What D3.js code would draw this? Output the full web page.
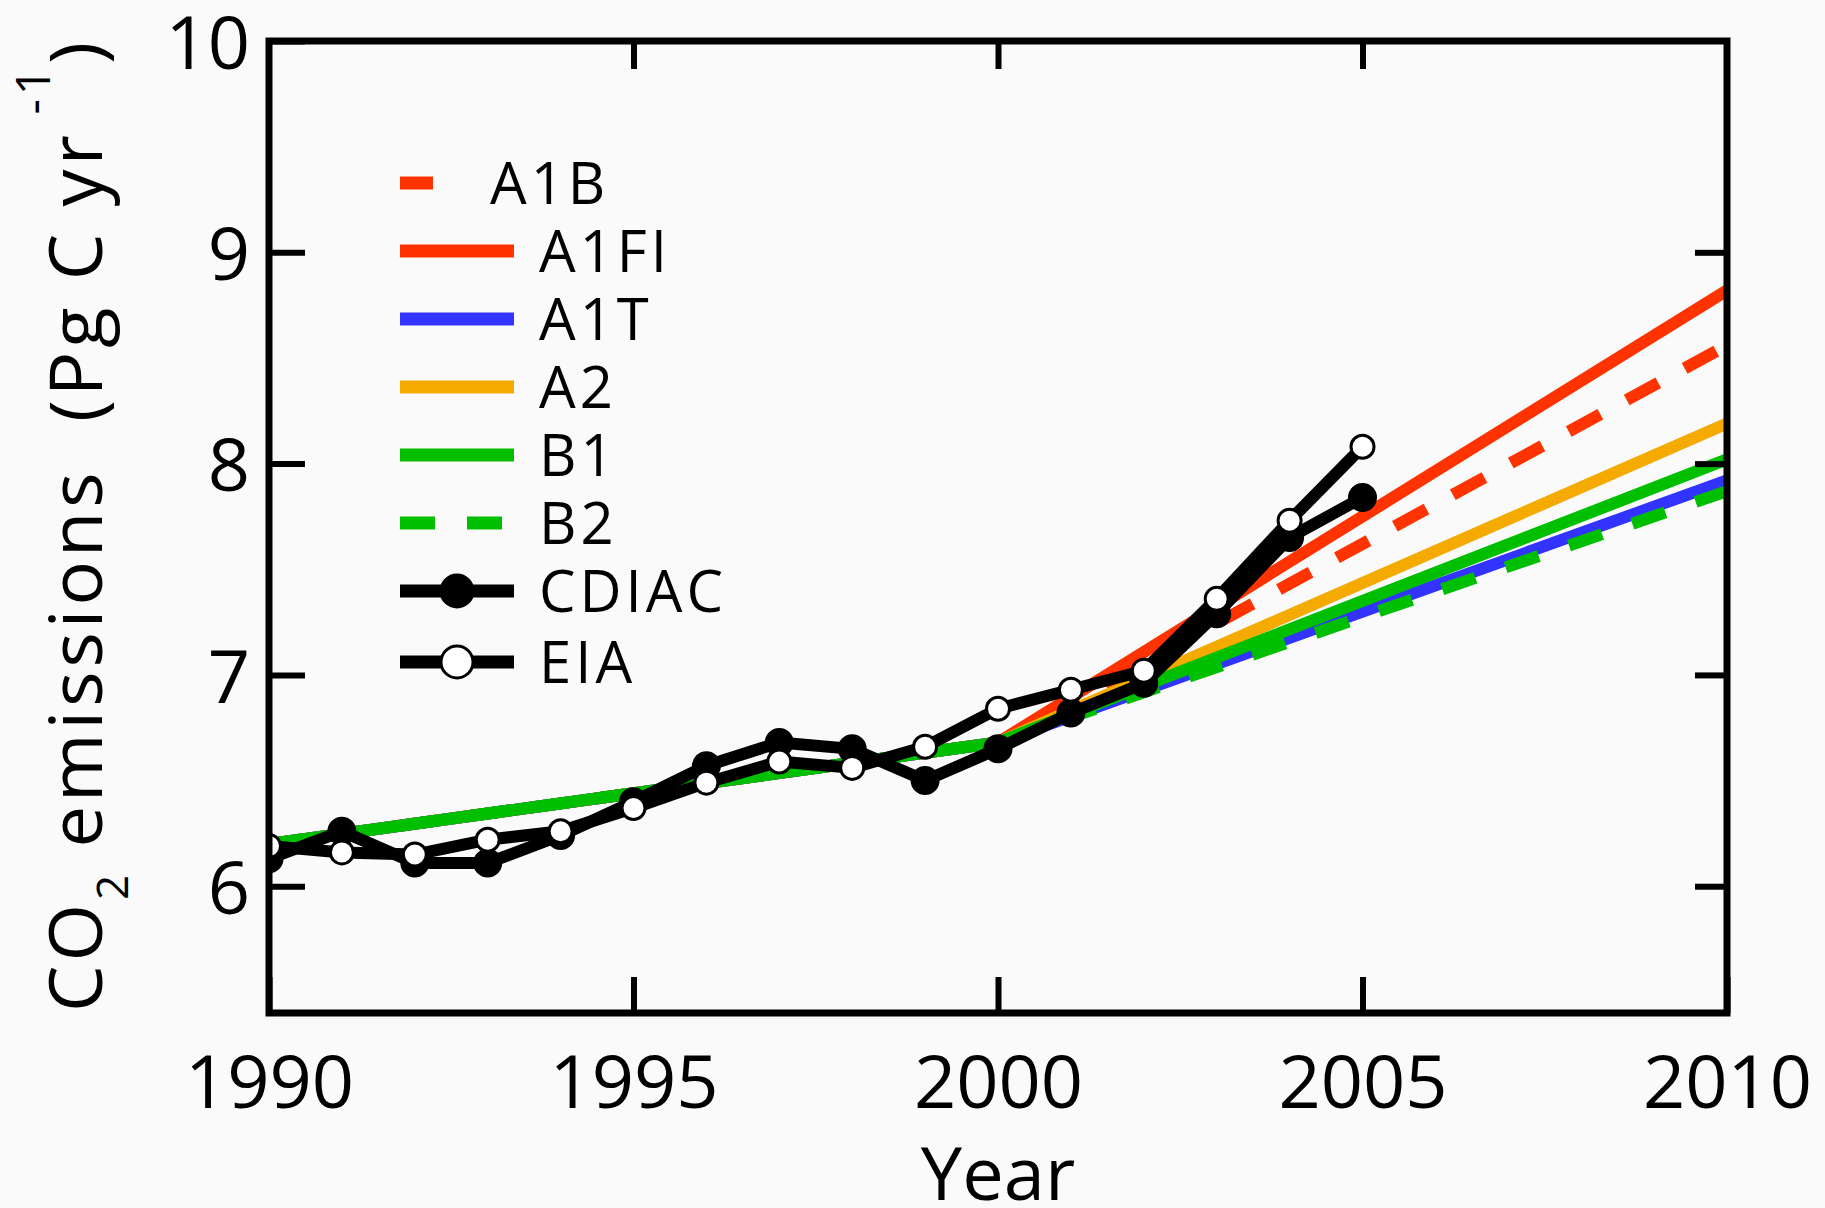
<!DOCTYPE html>
<html>
<head>
<meta charset="utf-8">
<script src="https://cdn.jsdelivr.net/npm/d3@7"></script>
<style>
  body { margin: 0; background: #fafafa; }
  svg { display: block; font-family: "Open Sans", sans-serif; }
</style>
</head>
<body>
<svg width="1825" height="1208"></svg>
<script>
// observed emissions, Pg C / yr
const years = [1990, 1991, 1992, 1993, 1994, 1995, 1996, 1997, 1998, 1999,
               2000, 2001, 2002, 2003, 2004, 2005];
const cdiac = [6.13, 6.26, 6.11, 6.11, 6.24, 6.40, 6.57, 6.68, 6.65, 6.50,
               6.65, 6.82, 6.96, 7.29, 7.65, 7.84];
const eia   = [6.19, 6.16, 6.15, 6.22, 6.26, 6.37, 6.49, 6.59, 6.56, 6.66,
               6.84, 6.93, 7.02, 7.36, 7.73, 8.08];

// SRES scenarios, given at these years
const scenYears = [1990, 2000, 2010];
const a1b  = [6.20, 6.68, 8.56];
const a1fi = [6.20, 6.68, 8.82];
const a1t  = [6.20, 6.68, 7.92];
const a2   = [6.20, 6.68, 8.19];
const b1   = [6.20, 6.68, 8.02];
const b2   = [6.20, 6.68, 7.87];

const xTicks = [1990, 1995, 2000, 2005, 2010];
const yTicks = [6, 7, 8, 9, 10];

const RED = '#ff3300', BLUE = '#3333ff', ORANGE = '#f5aa00', GREEN = '#00bf00';

// draw order matters: B1 ends up on top of the shared 1990-2000 stretch
const scenarios = [
  {name: 'A1FI', vals: a1fi, color: RED,    dash: null},
  {name: 'A1B',  vals: a1b,  color: RED,    dash: '36,30'},
  {name: 'A2',   vals: a2,   color: ORANGE, dash: null},
  {name: 'A1T',  vals: a1t,  color: BLUE,   dash: null},
  {name: 'B2',   vals: b2,   color: GREEN,  dash: '35,32'},
  {name: 'B1',   vals: b1,   color: GREEN,  dash: null}
];

const L = 269, R = 1727, T = 41, B = 1013;
const FS = 74;

const svg = d3.select('svg');
const x = d3.scaleLinear().domain([1990, 2010]).range([L, R]);
const y = d3.scaleLinear().domain([5.4, 10]).range([B, T]);

svg.append('defs').append('clipPath').attr('id', 'plot')
   .append('rect').attr('x', L).attr('y', T).attr('width', R - L).attr('height', B - T);

const plot = svg.append('g').attr('clip-path', 'url(#plot)');

const line = d3.line().x(d => x(d[0])).y(d => y(d[1]));

plot.selectAll('path.scen').data(scenarios).enter().append('path')
    .attr('class', 'scen')
    .attr('d', s => line(d3.zip(scenYears, s.vals)))
    .attr('fill', 'none')
    .attr('stroke', s => s.color)
    .attr('stroke-width', 12)
    .attr('stroke-dasharray', s => s.dash);

function obsSeries(vals, fill){
  const pts = d3.zip(years, vals);
  plot.append('path').attr('d', line(pts))
      .attr('fill', 'none').attr('stroke', '#000').attr('stroke-width', 12)
      .attr('stroke-linejoin', 'round');
  plot.selectAll(null).data(pts).enter().append('circle')
      .attr('cx', d => x(d[0])).attr('cy', d => y(d[1]))
      .attr('r', fill === '#000' ? 13 : 11.5)
      .attr('fill', fill).attr('stroke', '#000').attr('stroke-width', 3);
}
obsSeries(cdiac, '#000');
obsSeries(eia, '#fff');

// axes: inward ticks on all four sides, labels only bottom/left
function styleAxis(g){
  g.select('.domain').remove();
  g.selectAll('.tick line').attr('stroke', '#000').attr('stroke-width', 6);
  g.selectAll('text').attr('font-size', FS).attr('font-family', '"Open Sans", sans-serif')
   .attr('fill', '#000');
}
const TK = 36;
svg.append('g').attr('transform', `translate(0,${B})`)
   .call(d3.axisBottom(x).tickValues(xTicks).tickFormat(d3.format('d'))
          .tickSizeInner(-TK).tickSizeOuter(0).tickPadding(42))
   .call(styleAxis);
svg.append('g').attr('transform', `translate(0,${T})`)
   .call(d3.axisTop(x).tickValues(xTicks.slice(1, -1)).tickFormat('')
          .tickSizeInner(-28).tickSizeOuter(0))
   .call(styleAxis);
svg.append('g').attr('transform', `translate(${L},0)`)
   .call(d3.axisLeft(y).tickValues(yTicks).tickFormat(d3.format('d'))
          .tickSizeInner(-TK).tickSizeOuter(0).tickPadding(19))
   .call(styleAxis)
   .selectAll('text').attr('dy', '0.37em');
svg.append('g').attr('transform', `translate(${R},0)`)
   .call(d3.axisRight(y).tickValues(yTicks.slice(0, -1)).tickFormat('')
          .tickSizeInner(-32).tickSizeOuter(0))
   .call(styleAxis);

svg.append('rect').attr('x', L).attr('y', T).attr('width', R - L).attr('height', B - T)
   .attr('fill', 'none').attr('stroke', '#000').attr('stroke-width', 7);

// axis titles
svg.append('text').attr('x', (L + R) / 2).attr('y', 1200)
   .attr('text-anchor', 'middle').attr('font-size', FS).text('Year');

const yt = svg.append('text')
   .attr('transform', `translate(102,${(T + B) / 2 - 2}) rotate(-90)`)
   .attr('text-anchor', 'middle').attr('font-size', FS)
   .attr('letter-spacing', 4).style('white-space', 'pre');
yt.append('tspan').text('CO');
yt.append('tspan').attr('font-size', 44).attr('dy', 26).text('2');
yt.append('tspan').attr('dy', -26).text(' emissions  (Pg C yr');
yt.append('tspan').attr('font-size', 48).attr('dy', -52).text(' -1');
yt.append('tspan').attr('dy', 52).text(')');

// legend
const legend = [
  {name: 'A1B',   color: RED,    kind: 'shortdash'},
  {name: 'A1FI',  color: RED,    kind: 'solid'},
  {name: 'A1T',   color: BLUE,   kind: 'solid'},
  {name: 'A2',    color: ORANGE, kind: 'solid'},
  {name: 'B1',    color: GREEN,  kind: 'solid'},
  {name: 'B2',    color: GREEN,  kind: 'dash'},
  {name: 'CDIAC', color: '#000', kind: 'filled'},
  {name: 'EIA',   color: '#000', kind: 'open'}
];
const lg = svg.append('g');
const rows = lg.selectAll('g').data(legend).enter().append('g')
   .attr('transform', (d, i) => `translate(0,${183 + i * 68 + (i === 7 ? 3 : 0)})`);
rows.append('line')
   .attr('x1', 400)
   .attr('x2', d => d.kind === 'shortdash' ? 433 : (d.kind === 'dash' ? 504 : 514))
   .attr('stroke', d => d.color).attr('stroke-width', 13)
   .attr('stroke-dasharray', d => d.kind === 'dash' ? '35,32' : null);
rows.filter(d => d.kind === 'filled' || d.kind === 'open').append('circle')
   .attr('cx', 457).attr('r', 16)
   .attr('fill', d => d.kind === 'filled' ? '#000' : '#fff')
   .attr('stroke', '#000').attr('stroke-width', 3);
rows.append('text')
   .attr('x', d => d.kind === 'shortdash' ? 490 : 539).attr('dy', '0.36em')
   .attr('font-size', 58).attr('letter-spacing', 4).text(d => d.name);
</script>
</body>
</html>
